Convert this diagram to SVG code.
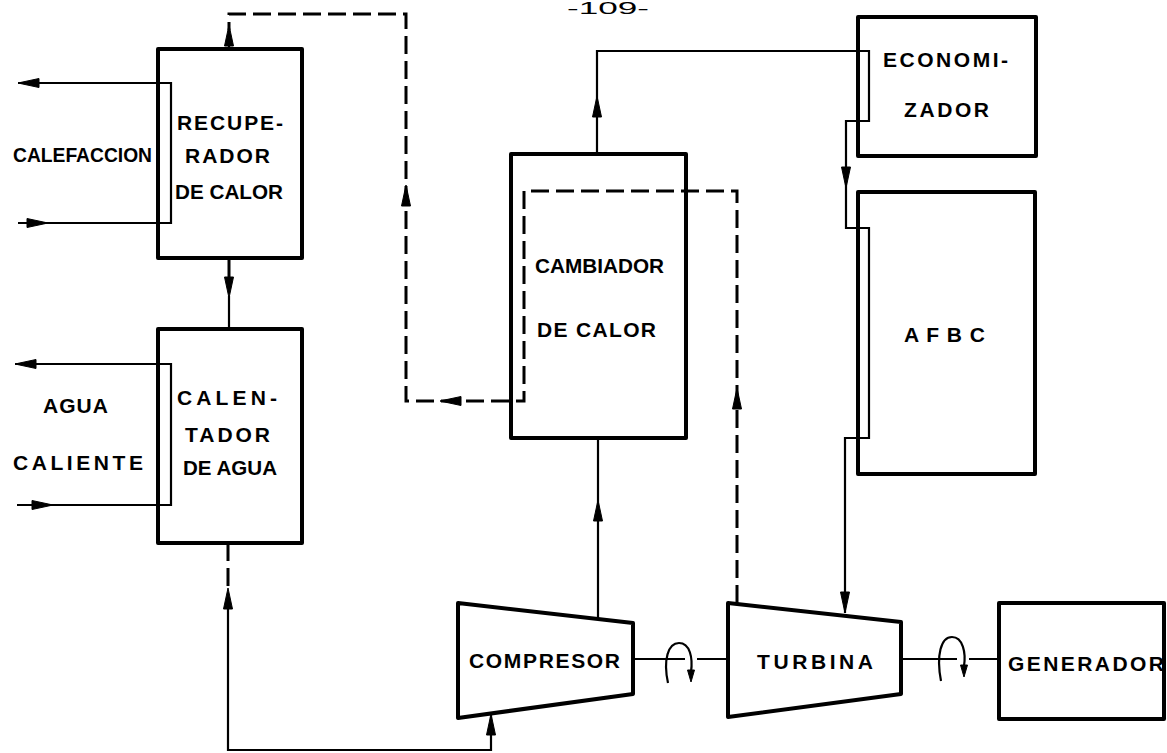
<svg xmlns="http://www.w3.org/2000/svg" xmlns:xlink="http://www.w3.org/1999/xlink" width="1167" height="753" viewBox="0 0 1167 753">
<style>
.box{fill:none;stroke:#000;stroke-width:4;stroke-linejoin:round}
.ln{fill:none;stroke:#000;stroke-width:2.2}
.dl{fill:none;stroke:#000;stroke-width:3;stroke-dasharray:18 7}
.t{font-family:"Liberation Sans",Arial,sans-serif;font-weight:bold;font-size:21px;fill:#000}
.pg{font-family:"Liberation Sans",Arial,sans-serif;font-size:17px;fill:#000}
.ah{fill:#000;stroke:#000;stroke-width:1}
</style>
<defs>
<path id="ah" d="M0,0 L-4.5,21 L4.5,21 Z"/>
<path id="ahs" d="M0,0 L-3.5,12 L3.5,12 Z"/>
</defs>
<rect width="1167" height="753" fill="#fff"/>
<text class="pg" x="567" y="14" textLength="82" lengthAdjust="spacingAndGlyphs">-109-</text>

<g id="recuperador">
<rect class="box" x="158" y="49" width="144" height="209"/>
<text class="t" x="177" y="130" textLength="106" lengthAdjust="spacing">RECUPE-</text>
<text class="t" x="185" y="163" textLength="85" lengthAdjust="spacing">RADOR</text>
<text class="t" x="175" y="199" textLength="108" lengthAdjust="spacingAndGlyphs">DE CALOR</text>
</g>
<g id="calefaccion">
<text class="t" x="13" y="162" textLength="139" lengthAdjust="spacingAndGlyphs">CALEFACCION</text>
</g>
<g id="calentador">
<rect class="box" x="158" y="329" width="144" height="214"/>
<text class="t" x="177" y="405" textLength="100" lengthAdjust="spacing">CALEN-</text>
<text class="t" x="185" y="442" textLength="85" lengthAdjust="spacing">TADOR</text>
<text class="t" x="183" y="475" textLength="94" lengthAdjust="spacingAndGlyphs">DE AGUA</text>
</g>
<g id="agua-caliente">
<text class="t" x="43" y="413" textLength="65" lengthAdjust="spacing">AGUA</text>
<text class="t" x="13" y="470" textLength="130" lengthAdjust="spacing">CALIENTE</text>
</g>
<g id="cambiador">
<rect class="box" x="511" y="154" width="175" height="284"/>
<text class="t" x="535" y="273" textLength="129" lengthAdjust="spacingAndGlyphs">CAMBIADOR</text>
<text class="t" x="537" y="337" textLength="119" lengthAdjust="spacing">DE CALOR</text>
</g>
<g id="economizador">
<rect class="box" x="858" y="17" width="178" height="139"/>
<text class="t" x="883" y="67" textLength="125" lengthAdjust="spacing">ECONOMI-</text>
<text class="t" x="904" y="117" textLength="85" lengthAdjust="spacing">ZADOR</text>
</g>
<g id="afbc">
<rect class="box" x="858" y="192" width="177" height="282"/>
<text class="t" x="904" y="342" textLength="81" lengthAdjust="spacing">A F B C</text>
</g>
<g id="compresor">
<path class="box" d="M458,603 L633,623 L633,694 L458,718 Z"/>
<text class="t" x="469" y="668" textLength="151" lengthAdjust="spacing">COMPRESOR</text>
</g>
<g id="turbina">
<path class="box" d="M728,603 L901,622 L901,694 L728,717 Z"/>
<text class="t" x="757" y="669" textLength="116" lengthAdjust="spacing">TURBINA</text>
</g>
<g id="generador">
<rect class="box" x="999" y="603" width="165" height="116"/>
<text class="t" x="1008" y="671" textLength="156" lengthAdjust="spacing">GENERADOR</text>
</g>

<g id="connectors">
<path class="ln" d="M18,83 L171,83 L171,223 L18,223"/>
<path class="ln" d="M15,364 L171,364 L171,505 L17,505"/>
<path class="dl" d="M737,603 L737,191 L524,191 L524,401 L406,401 L406,14 L229,14 L229,30"/>
<path class="ln" d="M229,40 L229,49"/>
<path class="dl" d="M229,259 L229,280"/>
<path class="ln" d="M229,296 L229,329"/>
<path class="dl" d="M228,543 L228,590"/>
<path class="ln" d="M228,606 L228,750 L491,750 L491,713"/>
<path class="ln" d="M598,619 L598,438"/>
<path class="ln" d="M597,154 L597,51 L869,51 L869,121 L846,121 L846,228 L869,228 L869,438 L845,438 L845,613"/>
<path class="ln" d="M633,659 L685,659 M697,659 L728,659"/>
<path class="ln" d="M901,659 L957,659 M969,659 L999,659"/>
<path class="ln" d="M668,683 C663,660 668,643 679,643 C690,643 693,658 691,672"/>
<path class="ln" d="M941,681 C936,655 941,637 952,637 C963,637 966,653 964,666"/>
<use class="ah" href="#ah" transform="translate(18,83) rotate(-90)"/>
<use class="ah" href="#ah" transform="translate(48,223) rotate(90)"/>
<use class="ah" href="#ah" transform="translate(15,364) rotate(-90)"/>
<use class="ah" href="#ah" transform="translate(53,505) rotate(90)"/>
<use class="ah" href="#ah" transform="translate(229,25)"/>
<use class="ah" href="#ah" transform="translate(229,298) rotate(180)"/>
<use class="ah" href="#ah" transform="translate(228,588)"/>
<use class="ah" href="#ah" transform="translate(406,185)"/>
<use class="ah" href="#ah" transform="translate(440,401) rotate(-90)"/>
<use class="ah" href="#ah" transform="translate(737,388)"/>
<use class="ah" href="#ah" transform="translate(597,96)"/>
<use class="ah" href="#ah" transform="translate(846,188) rotate(180)"/>
<use class="ah" href="#ah" transform="translate(845,613) rotate(180)"/>
<use class="ah" href="#ah" transform="translate(598,500)"/>
<use class="ah" href="#ah" transform="translate(491,714)"/>
<use class="ah" href="#ahs" transform="translate(691,682) rotate(180)"/>
<use class="ah" href="#ahs" transform="translate(964,677) rotate(180)"/>
</g>
</svg>
